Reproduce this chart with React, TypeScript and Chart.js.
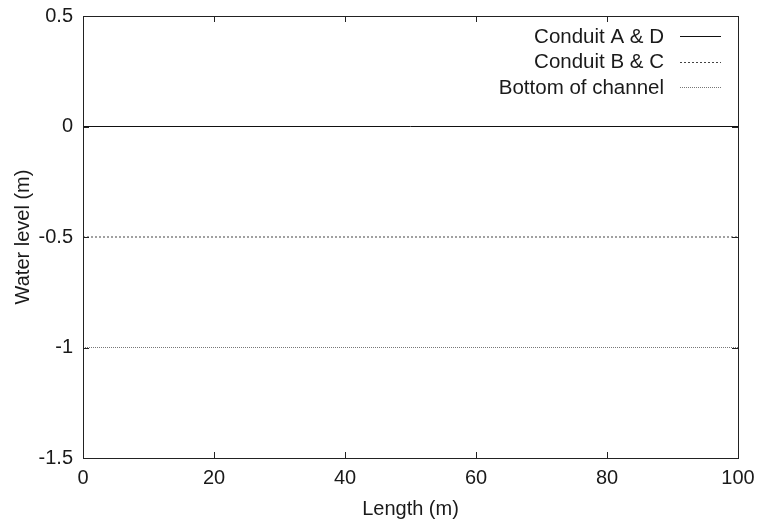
import React, { useEffect, useRef } from "react";
import { Chart, registerables } from "chart.js";

Chart.register(...registerables);

const lengths = [0, 100];
const conduitAD = [0, 0];
const conduitBC = [-0.5, -0.5];
const bottomOfChannel = [-1, -1];
const seriesLabels = ["Conduit A & D", "Conduit B & C", "Bottom of channel"];
const xTicks = [0, 20, 40, 60, 80, 100];
const yTicks = [-1.5, -1, -0.5, 0, 0.5];

const FONT = "Liberation Sans, Arial, Helvetica, sans-serif";
const TEXT = "#1a1a1a";

const frameAndLegend = {
  id: "frameAndLegend",
  afterDatasetsDraw(chart: any) {
    const { ctx, chartArea: a, scales } = chart;
    ctx.save();
    ctx.strokeStyle = "#222";
    ctx.lineWidth = 1;
    ctx.setLineDash([]);
    ctx.strokeRect(a.left + 0.5, a.top + 0.5, a.right - a.left, a.bottom - a.top);
    const tl = 6;
    ctx.beginPath();
    for (const v of xTicks) {
      const x = Math.round(scales.x.getPixelForValue(v)) + 0.5;
      ctx.moveTo(x, a.bottom);
      ctx.lineTo(x, a.bottom - tl);
      ctx.moveTo(x, a.top);
      ctx.lineTo(x, a.top + tl);
    }
    for (const v of yTicks) {
      const y = Math.round(scales.y.getPixelForValue(v)) + 0.5;
      ctx.moveTo(a.left, y);
      ctx.lineTo(a.left + tl, y);
      ctx.moveTo(a.right, y);
      ctx.lineTo(a.right - tl, y);
    }
    ctx.stroke();

    // legend
    ctx.font = `20.5px ${FONT}`;
    ctx.textAlign = "right";
    ctx.textBaseline = "middle";
    const textRight = 664;
    const lineX0 = 680;
    const lineX1 = 721;
    chart.data.datasets.forEach((ds: any, i: number) => {
      const y = 36 + i * 25.5;
      ctx.fillStyle = TEXT;
      ctx.fillText(ds.label, textRight, y + 1);
      ctx.strokeStyle = ds.borderColor;
      ctx.lineWidth = 1;
      ctx.setLineDash(ds.borderDash || []);
      ctx.beginPath();
      ctx.moveTo(lineX0, Math.round(y) + 0.5);
      ctx.lineTo(lineX1, Math.round(y) + 0.5);
      ctx.stroke();
    });
    ctx.restore();
  },
};

export default function App() {
  const ref = useRef<HTMLCanvasElement>(null);
  useEffect(() => {
    document.body.style.margin = "0";
    const toPts = (ys: number[]) => lengths.map((x, i) => ({ x, y: ys[i] }));
    const chart = new Chart(ref.current!, {
      type: "line",
      data: {
        datasets: [
          { label: seriesLabels[0], data: toPts(conduitAD), borderColor: "#111", borderWidth: 1, pointRadius: 0, borderDash: [] },
          { label: seriesLabels[1], data: toPts(conduitBC), borderColor: "#444", borderWidth: 1, pointRadius: 0, borderDash: [2, 2] },
          { label: seriesLabels[2], data: toPts(bottomOfChannel), borderColor: "#777", borderWidth: 1, pointRadius: 0, borderDash: [1, 1] },
        ],
      },
      options: {
        responsive: false,
        animation: false,
        events: [],
        layout: { padding: { top: 16, right: 21, left: 0, bottom: 0 } },
        plugins: { legend: { display: false }, tooltip: { enabled: false } },
        scales: {
          x: {
            type: "linear",
            min: 0,
            max: 100,
            afterBuildTicks: (s: any) => { s.ticks = xTicks.map((v) => ({ value: v })); },
            afterFit: (s: any) => { s.height = 67; s.paddingLeft = 0; s.paddingRight = 0; },
            grid: { display: false, drawTicks: false },
            border: { display: false },
            ticks: { color: TEXT, font: { family: FONT, size: 20 }, padding: 8, maxRotation: 0, callback: (v: any) => String(v) },
            title: { display: true, text: "Length (m)", color: TEXT, font: { family: FONT, size: 20 }, padding: { top: 0, bottom: 4 } },
          },
          y: {
            type: "linear",
            min: -1.5,
            max: 0.5,
            afterBuildTicks: (s: any) => { s.ticks = yTicks.map((v) => ({ value: v })); },
            afterFit: (s: any) => { s.width = 83; s.paddingTop = 0; s.paddingBottom = 0; },
            grid: { display: false, drawTicks: false },
            border: { display: false },
            ticks: { color: TEXT, font: { family: FONT, size: 20 }, padding: 10, callback: (v: any) => String(v) },
            title: { display: true, text: "Water level (m)", color: TEXT, font: { family: FONT, size: 20 }, padding: { top: 11, bottom: 0 } },
          },
        },
      },
      plugins: [frameAndLegend],
    } as any);
    return () => chart.destroy();
  }, []);
  return (
    <div style={{ position: "fixed", left: 0, top: 0, width: 759, height: 525, background: "#fff" }}>
      <canvas ref={ref} width={759} height={525} style={{ display: "block" }} />
    </div>
  );
}
